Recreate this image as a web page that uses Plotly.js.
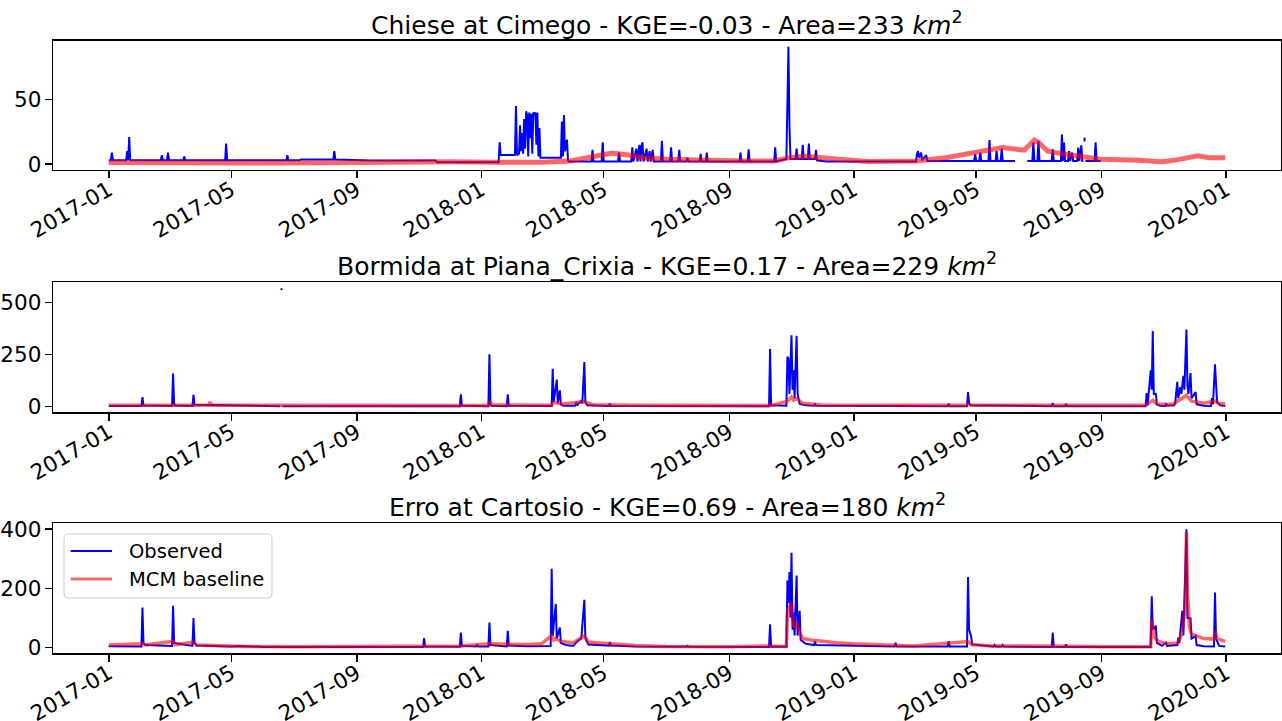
<!DOCTYPE html>
<html>
<head>
<meta charset="utf-8">
<script src="https://cdn.plot.ly/plotly-3.0.1.min.js"></script>
<style>
  html, body { margin: 0; padding: 0; background: #ffffff; }
  #chart { width: 1282px; height: 721px; }
</style>
</head>
<body>
<div id="chart"></div>
<script>
// ---- Chiese at Cimego ----
const chieseObsDate = [
  '2017-01-01','2017-01-03','2017-01-04','2017-01-05','2017-01-18','2017-01-19','2017-01-20','2017-01-21','2017-01-22',
  '2017-02-21','2017-02-22','2017-02-23','2017-02-27','2017-02-28','2017-03-01','2017-03-15','2017-03-16','2017-03-17',
  '2017-04-25','2017-04-26','2017-04-27','2017-06-24','2017-06-25','2017-06-26','2017-07-07','2017-07-08',
  '2017-08-09','2017-08-10','2017-08-11','2017-08-25','2017-09-15','2017-11-17','2017-11-19',
  '2018-01-18','2018-01-19','2018-01-20','2018-02-03','2018-02-04','2018-02-05','2018-02-07','2018-02-08','2018-02-09',
  '2018-02-10','2018-02-11','2018-02-12','2018-02-13','2018-02-14','2018-02-15','2018-02-16','2018-02-17','2018-02-18',
  '2018-02-19','2018-02-20','2018-02-21','2018-02-22','2018-02-23','2018-02-24','2018-02-25','2018-02-26','2018-02-27',
  '2018-02-28','2018-03-20','2018-03-21','2018-03-22','2018-03-23','2018-03-24','2018-03-26','2018-03-27','2018-03-28',
  '2018-04-19','2018-04-20','2018-04-21','2018-04-29','2018-04-30','2018-05-01','2018-05-15','2018-05-16','2018-05-17',
  '2018-05-28','2018-05-29','2018-05-30','2018-06-02','2018-06-03','2018-06-05','2018-06-06','2018-06-07','2018-06-08',
  '2018-06-09','2018-06-12','2018-06-13','2018-06-15','2018-06-16','2018-06-18','2018-06-19','2018-06-26','2018-06-27',
  '2018-06-28','2018-07-05','2018-07-06','2018-07-07','2018-07-13','2018-07-14','2018-07-15','2018-07-21','2018-07-22',
  '2018-07-23','2018-08-03','2018-08-04','2018-08-05','2018-08-09','2018-08-10','2018-08-11','2018-09-11','2018-09-12',
  '2018-09-13','2018-09-19','2018-09-20','2018-09-21','2018-10-15','2018-10-16','2018-10-17','2018-10-27','2018-10-28',
  '2018-10-29','2018-10-30','2018-10-31','2018-11-05','2018-11-06','2018-11-07','2018-11-11','2018-11-12','2018-11-13',
  '2018-11-17','2018-11-18','2018-11-19','2018-11-24','2018-11-25','2018-11-26','2018-12-05',
  '2019-03-03','2019-03-04','2019-03-05','2019-03-06','2019-03-08','2019-03-09','2019-03-13','2019-03-14',
  '2019-04-29','2019-04-30','2019-05-01','2019-05-04','2019-05-05','2019-05-06','2019-05-13','2019-05-14','2019-05-15',
  '2019-05-20','2019-05-21','2019-05-22','2019-05-25','2019-05-26','2019-05-27','2019-06-08','2019-06-14',
  '2019-06-20','2019-06-25','2019-06-26','2019-06-27','2019-06-30','2019-07-01','2019-07-02','2019-07-14','2019-07-15',
  '2019-07-16','2019-07-23','2019-07-24','2019-07-25','2019-07-26','2019-07-27','2019-07-30','2019-07-31','2019-08-01',
  '2019-08-03','2019-08-04','2019-08-08','2019-08-09','2019-08-10','2019-08-12','2019-08-13','2019-08-14',
  '2019-08-14 12:00','2019-08-15','2019-08-15 06:00','2019-08-15 12:00','2019-08-16',
  '2019-08-25','2019-08-26','2019-08-27','2019-08-31'
];
const chieseObsQ = [
  3,3,9,3,3,10,3,21,3,
  3,7,3,3,9,3,3,6,3,
  3,16,3,3,7,3,3,3.5,
  3.5,10,3.5,3,2.8,2.8,1.5,
  1.5,17,7,7,45,7,8,30,10,
  24,8,35,12,41,38,6,40,20,
  39,8,40,38,40,15,40,6,28,
  5,5,33,6,38,10,19,3,2,
  2,11,2,2,17,2,2,9,2,
  2,13,2,12,2,15,2,14,17,
  2,12,2,10,2,11,2,2,18,
  2,2,13,2,2,11,2,2,5,
  2,2,8,2,2,9,2,2,9,
  2,2,11.5,2,2,13,2,4,40,
  91,30,4,4,12,4,4,15,4,
  4,16,4,4,11,3,2,
  2,8,10,5,9,3,7,2.5,
  2.5,7.7,2.5,2.5,9,2.5,2.5,18.7,2.5,
  2.5,10,2.5,2.5,12,2.5,2.5,null,
  2.5,2.5,16.7,2.5,2.5,18,2.5,2.5,11.5,
  2.5,2.5,23,2.5,16.7,2.5,2.5,10,2.5,
  9,2.5,2.5,12.8,2.5,14.6,2.5,2.5,
  null,17.5,20.5,null,2.5,
  2.5,17,2.5,2.5
];
const chieseSimDate = [
  '2017-01-01','2017-02-15','2017-04-01','2017-06-01','2017-08-01','2017-09-15','2017-10-20','2017-12-01',
  '2018-01-15','2018-03-01','2018-03-29','2018-04-15','2018-05-01','2018-05-09','2018-05-25','2018-06-10',
  '2018-07-01','2018-08-01','2018-09-15','2018-10-15','2018-10-30','2018-11-15','2018-12-01','2018-12-20',
  '2019-01-15','2019-02-15','2019-03-04','2019-04-01','2019-05-01','2019-05-27','2019-06-17','2019-06-27',
  '2019-07-01','2019-07-10','2019-07-27','2019-08-16','2019-08-31','2019-10-07','2019-10-30','2019-11-15',
  '2019-12-04','2019-12-15','2019-12-31'
];
const chieseSimQ = [
  1.2,0.8,1.0,0.8,1.0,1.5,2.0,1.8,
  1.4,1.4,2.5,5,7.5,8.5,7,5,
  3.8,3,2.5,2.5,5,6,4.5,3.5,
  2,1.8,2.5,5,9,12.8,10.8,18.7,
  17,10,7.7,5,3.8,3,1.8,3.5,
  6.4,5,5
];

// ---- Bormida at Piana_Crixia ----
const bormidaObsDate = [
  '2017-01-01','2017-02-02','2017-02-03','2017-02-04','2017-03-04','2017-03-05','2017-03-06','2017-03-07',
  '2017-03-24','2017-03-25','2017-03-26','2017-06-18','2017-06-18 12:00','2017-06-19','2017-06-19 08:00',
  '2017-06-19 16:00','2017-06-20',
  '2017-12-11','2017-12-12','2017-12-13','2018-01-08','2018-01-09','2018-01-10','2018-01-11',
  '2018-01-26','2018-01-27','2018-01-28','2018-03-11','2018-03-12','2018-03-13','2018-03-16','2018-03-17',
  '2018-03-19','2018-03-20','2018-03-22','2018-04-03','2018-04-04','2018-04-05','2018-04-09','2018-04-10',
  '2018-04-12','2018-04-13','2018-04-15','2018-05-06','2018-05-07','2018-05-08',
  '2018-10-10','2018-10-11','2018-10-12','2018-10-27','2018-10-28','2018-10-29','2018-10-30','2018-11-01',
  '2018-11-02','2018-11-03','2018-11-04','2018-11-06','2018-11-07','2018-11-08','2018-11-09','2018-11-15',
  '2018-11-23','2018-11-24','2018-11-25',
  '2019-04-03','2019-04-04','2019-04-05','2019-04-22','2019-04-23','2019-04-24','2019-04-26',
  '2019-07-14','2019-07-15','2019-07-16','2019-07-27','2019-07-28','2019-07-29',
  '2019-10-14','2019-10-15','2019-10-16','2019-10-19','2019-10-20','2019-10-21','2019-10-22','2019-10-24',
  '2019-10-25','2019-10-28','2019-11-02','2019-11-03','2019-11-04','2019-11-11','2019-11-12','2019-11-14',
  '2019-11-15','2019-11-17','2019-11-18','2019-11-20','2019-11-21','2019-11-23','2019-11-24','2019-11-25',
  '2019-11-27','2019-11-28','2019-12-02','2019-12-03','2019-12-10','2019-12-17','2019-12-18','2019-12-19',
  '2019-12-21','2019-12-22','2019-12-23','2019-12-26','2019-12-31'
];
const bormidaObsQ = [
  2,2,45,4,2,158,12,4,
  2,56,8,1,null,570,561,
  null,1,
  1,58,3,1,251,10,3,
  1,58,3,2,182,20,129,15,
  77,10,3,3,21,5,29,15,
  214,20,5,2,13,2,
  1,277,5,3,239,231,60,343,
  80,174,40,340,60,37,12,5,
  3,10,3,
  1,13,1,1,69,15,5,
  1,16,1,1,12,1,
  1,64,5,174,80,363,60,61,
  10,3,2,13,3,5,16,118,
  40,93,60,147,80,371,100,60,
  161,40,69,10,3,2,40,10,
  203,113,20,5,2
];
const bormidaSimDate = [
  '2017-01-01','2017-04-09','2017-04-10','2017-04-12','2017-12-31','2018-01-08','2018-01-09','2018-01-12',
  '2018-03-11','2018-03-13','2018-03-20','2018-04-12','2018-04-20','2018-06-01','2018-10-10','2018-10-11',
  '2018-10-13','2018-10-28','2018-11-01','2018-11-03','2018-11-06','2018-11-12','2018-12-01','2019-04-22',
  '2019-04-23','2019-04-26','2019-10-14','2019-10-21','2019-10-25','2019-11-10','2019-11-23','2019-11-28',
  '2019-12-10','2019-12-21','2019-12-25','2019-12-31'
];
const bormidaSimQ = [
  5,5,21,6,4,4,22,7,
  6,20,12,22,8,5,4,10,
  5,25,45,30,38,15,7,5,
  12,6,5,30,12,10,53,25,
  15,25,14,12
];

// ---- Erro at Cartosio ----
const erroObsDate = [
  '2017-01-01','2017-02-02','2017-02-03','2017-02-04','2017-02-06','2017-03-04','2017-03-05','2017-03-06',
  '2017-03-24','2017-03-25','2017-03-26','2017-03-28','2017-05-01','2017-05-08','2017-06-01',
  '2017-11-05','2017-11-06','2017-11-07','2017-12-11','2017-12-12','2017-12-13','2017-12-27','2017-12-28','2017-12-29',
  '2018-01-08','2018-01-09','2018-01-10','2018-01-26','2018-01-27','2018-01-28','2018-02-15','2018-03-10',
  '2018-03-11','2018-03-12','2018-03-15','2018-03-16','2018-03-19','2018-03-20','2018-03-25','2018-04-01',
  '2018-04-05','2018-04-09','2018-04-12','2018-04-13','2018-04-16','2018-05-06','2018-05-07','2018-05-08',
  '2018-06-01','2018-07-21','2018-07-22','2018-07-23','2018-10-10','2018-10-11','2018-10-12','2018-10-27',
  '2018-10-28','2018-10-29','2018-10-30','2018-10-31','2018-11-01','2018-11-02','2018-11-03','2018-11-04',
  '2018-11-06','2018-11-07','2018-11-09','2018-11-10','2018-11-15','2018-11-23','2018-11-24','2018-11-25',
  '2019-02-10','2019-02-11','2019-02-12','2019-04-03','2019-04-04','2019-04-05','2019-04-22','2019-04-23',
  '2019-04-24','2019-04-26','2019-04-27','2019-05-18','2019-05-19','2019-05-20','2019-05-26','2019-05-27',
  '2019-05-28','2019-07-14','2019-07-15','2019-07-16','2019-07-27','2019-07-28','2019-07-29','2019-10-19',
  '2019-10-20','2019-10-21','2019-10-24','2019-10-25','2019-10-30','2019-11-03','2019-11-04','2019-11-14',
  '2019-11-15','2019-11-16','2019-11-19','2019-11-20','2019-11-23','2019-11-24','2019-11-27','2019-11-28',
  '2019-12-02','2019-12-03','2019-12-10','2019-12-20','2019-12-21','2019-12-22','2019-12-25','2019-12-31'
];
const erroObsQ = [
  4,3,135,15,8,5,141,15,
  5,99,15,6,3,5,1.5,
  1,31,3,2,50,5,3,8,3,
  3,84,8,3,56,6,4,5,
  266,40,147,30,67,15,8,5,
  20,30,161,30,10,6,18,6,
  3,2,5,2,1,78,2,2,
  226,150,255,100,320,60,118,40,
  243,40,124,25,12,8,20,8,
  3,16,3,3,21,3,3,238,
  60,38,10,3,8,3,3,8,
  3,1,50,2,1,10,1,1,
  173,60,73,15,5,16,5,8,
  33,15,124,40,400,100,98,30,
  38,8,4,3,186,30,5,3
];
const erroSimDate = [
  '2017-01-01','2017-02-03','2017-02-05','2017-03-05','2017-03-07','2017-03-25','2017-03-28','2017-04-15',
  '2017-05-15','2017-07-01','2017-11-06','2017-12-12','2018-01-09','2018-01-27','2018-02-15','2018-03-01',
  '2018-03-11','2018-03-13','2018-03-15','2018-03-19','2018-03-25','2018-04-01','2018-04-12','2018-04-16',
  '2018-05-07','2018-06-01','2018-07-01','2018-09-01','2018-10-11','2018-10-27','2018-10-28','2018-10-30',
  '2018-11-01','2018-11-03','2018-11-06','2018-11-09','2018-11-12','2018-11-20','2018-12-01','2018-12-15',
  '2019-01-01','2019-02-01','2019-03-01','2019-04-23','2019-04-26','2019-05-15','2019-07-15','2019-09-01',
  '2019-10-19','2019-10-20','2019-10-22','2019-10-26','2019-11-05','2019-11-15','2019-11-19','2019-11-22',
  '2019-11-23','2019-11-24','2019-11-26','2019-11-28','2019-12-02','2019-12-10','2019-12-20','2019-12-21',
  '2019-12-23','2019-12-31'
];
const erroSimQ = [
  8,12,8,20,9,18,8,6,
  3,2,3,5,12,10,10,12,
  40,25,30,22,18,15,40,18,
  12,6,3,2,5,3,120,140,
  152,70,80,50,30,25,20,16,
  12,8,5,20,10,5,5,2,
  2,95,40,20,12,15,50,150,
  390,180,70,45,40,30,28,55,
  30,20
];

// ---- panel texts and axis ticks ----
const panelTitles = [
  'Chiese at Cimego - KGE=-0.03 - Area=233 <i>km</i><sup>2</sup>',
  'Bormida at Piana_Crixia - KGE=0.17 - Area=229 <i>km</i><sup>2</sup>',
  'Erro at Cartosio - KGE=0.69 - Area=180 <i>km</i><sup>2</sup>'
];
const seriesNames = ['Observed', 'MCM baseline'];
const yTicks = [[0, 50], [0, 250, 500], [0, 200, 400]];
const yRanges = [[-4.55, 95.6], [-28.5, 598.5], [-20, 420]];
const xRange = ['2016-11-07 08:00', '2020-02-23 16:00'];

// ---- layout geometry (pixels) ----
const W = 1282, H = 721, ML = 53, MR = 1;
const PW = W - ML - MR;
const panelPx = [[40.7, 170], [282.3, 412.3], [523.3, 653.3]];
const FONT = 'DejaVu Sans';
const TICK_SIZE = 21.5, TITLE_SIZE = 25, LEGEND_SIZE = 19.5;

const obsColor = '#0000ff';
const simColor = 'rgba(255,0,0,0.6)';
const simWidths = [5, 3.5, 3.5];

const px2x = p => (p - ML) / PW;
const py2y = p => 1 - p / H;

const obsSeries = [[chieseObsDate, chieseObsQ], [bormidaObsDate, bormidaObsQ], [erroObsDate, erroObsQ]];
const simSeries = [[chieseSimDate, chieseSimQ], [bormidaSimDate, bormidaSimQ], [erroSimDate, erroSimQ]];

const traces = [];
const layout = {
  width: W, height: H,
  margin: {l: ML, r: MR, t: 0, b: 0, pad: 0},
  paper_bgcolor: '#ffffff', plot_bgcolor: '#ffffff',
  font: {family: FONT, size: TICK_SIZE, color: '#000000'},
  showlegend: false,
  annotations: [],
  shapes: []
};

for (let i = 0; i < 3; i++) {
  const sfx = i === 0 ? '' : String(i + 1);
  const top = py2y(panelPx[i][0]), bot = py2y(panelPx[i][1]);
  traces.push({
    type: 'scatter', mode: 'lines', x: obsSeries[i][0], y: obsSeries[i][1],
    xaxis: 'x' + sfx, yaxis: 'y' + sfx, connectgaps: false,
    line: {color: obsColor, width: 2},
    name: seriesNames[0], hoverinfo: 'skip'
  });
  traces.push({
    type: 'scatter', mode: 'lines', x: simSeries[i][0], y: simSeries[i][1],
    xaxis: 'x' + sfx, yaxis: 'y' + sfx,
    line: {color: simColor, width: simWidths[i]},
    name: seriesNames[1], hoverinfo: 'skip'
  });
  layout['xaxis' + sfx] = {
    type: 'date', range: xRange, domain: [0, 1], anchor: 'y' + sfx,
    tick0: '2017-01-01', dtick: 'M4', tickformat: '%Y-%m', tickangle: -30,
    ticks: 'outside', ticklen: 7, tickwidth: 1.5, tickcolor: '#000000',
    ticklabelstandoff: -9,
    tickfont: {family: FONT, size: TICK_SIZE, color: '#000000'},
    showline: true, mirror: true, linecolor: '#000000', linewidth: 1.3,
    showgrid: false, zeroline: false, fixedrange: true
  };
  layout['yaxis' + sfx] = {
    range: yRanges[i], domain: [bot, top], anchor: 'x' + sfx,
    tickmode: 'array', tickvals: yTicks[i], ticktext: yTicks[i].map(String),
    ticks: 'outside', ticklen: 7, tickwidth: 1.5, tickcolor: '#000000',
    ticklabelstandoff: -1,
    tickfont: {family: FONT, size: TICK_SIZE, color: '#000000'},
    showline: true, mirror: true, linecolor: '#000000', linewidth: 1.3,
    showgrid: false, zeroline: false, fixedrange: true
  };
  layout.annotations.push({
    text: panelTitles[i], xref: 'paper', yref: 'paper',
    x: 0.5, y: top, xanchor: 'center', yanchor: 'bottom', yshift: -1,
    showarrow: false, font: {family: FONT, size: TITLE_SIZE, color: '#000000'}
  });
}

// ---- legend box in the lower panel ----
const legBox = {x0: 64, x1: 272, y0: 534, y1: 598, r: 4};
const roundRect = (b) => {
  const X = px2x, Y = py2y, rx = b.r / PW, ry = b.r / H;
  const x0 = X(b.x0), x1 = X(b.x1), y0 = Y(b.y0), y1 = Y(b.y1);
  return `M${x0 + rx},${y0} L${x1 - rx},${y0} Q${x1},${y0} ${x1},${y0 - ry} ` +
         `L${x1},${y1 + ry} Q${x1},${y1} ${x1 - rx},${y1} L${x0 + rx},${y1} ` +
         `Q${x0},${y1} ${x0},${y1 + ry} L${x0},${y0 - ry} Q${x0},${y0} ${x0 + rx},${y0} Z`;
};
layout.shapes.push({
  type: 'path', xref: 'paper', yref: 'paper', path: roundRect(legBox),
  fillcolor: 'rgba(255,255,255,0.8)', line: {color: '#cccccc', width: 1}, layer: 'above'
});
const legRows = [
  {y: 551, color: obsColor, width: 2, label: seriesNames[0]},
  {y: 579, color: simColor, width: 3, label: seriesNames[1]}
];
legRows.forEach(r => {
  layout.shapes.push({
    type: 'line', xref: 'paper', yref: 'paper',
    x0: px2x(70.7), x1: px2x(112), y0: py2y(r.y), y1: py2y(r.y),
    line: {color: r.color, width: r.width}, layer: 'above'
  });
  layout.annotations.push({
    text: r.label, xref: 'paper', yref: 'paper', x: px2x(127), y: py2y(r.y),
    xanchor: 'left', yanchor: 'middle', showarrow: false,
    font: {family: FONT, size: LEGEND_SIZE, color: '#000000'}
  });
});

Plotly.newPlot('chart', traces, layout, {staticPlot: true, displayModeBar: false});
</script>
</body>
</html>
